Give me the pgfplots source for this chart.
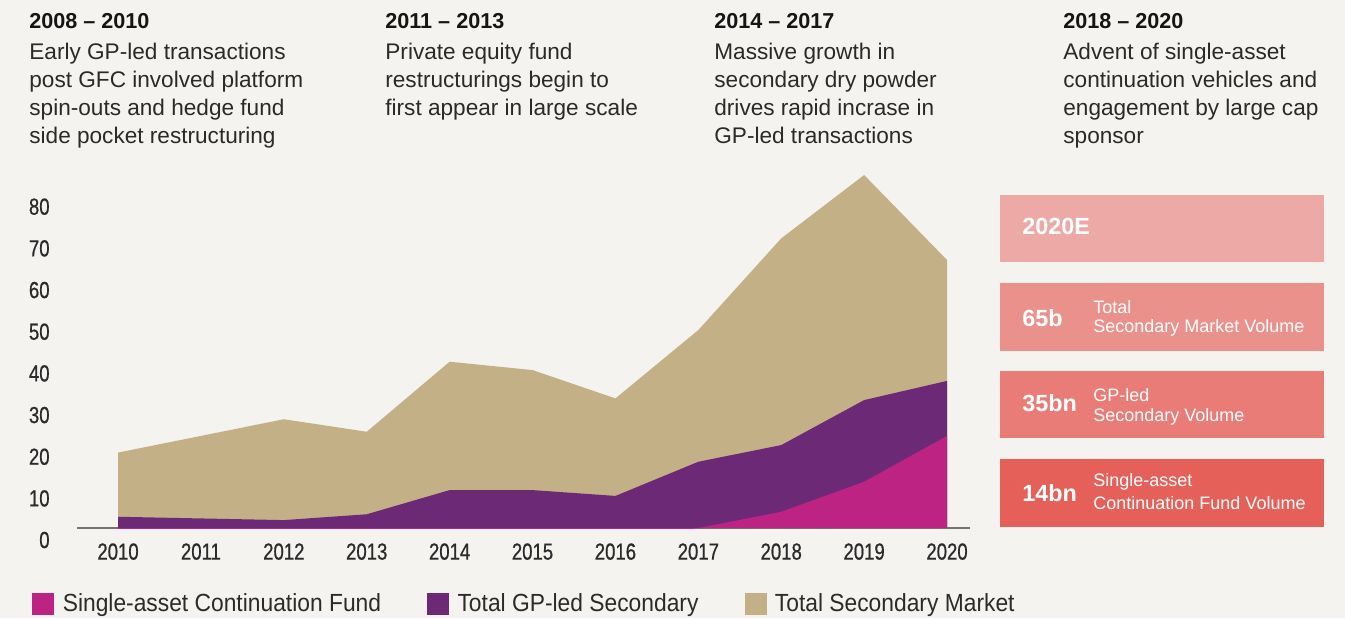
\documentclass[border=0pt]{standalone}
\usepackage{fontspec}
\usepackage{pgfplots}
\pgfplotsset{compat=1.18}
\setmainfont{Liberation Sans}
\newfontfamily\condfont{Liberation Sans}[FakeStretch=0.8, FakeBold=0.7]
\newfontfamily\legfont{Liberation Sans}[FakeStretch=0.92]
\definecolor{bg}{HTML}{F4F3EF}
\definecolor{ctan}{HTML}{C4B087}
\definecolor{cpurple}{HTML}{6C2A76}
\definecolor{cpink}{HTML}{BD2382}
\definecolor{boxa}{HTML}{EDA9A5}
\definecolor{boxb}{HTML}{EA918C}
\definecolor{boxc}{HTML}{E97C76}
\definecolor{boxd}{HTML}{E6605A}
\definecolor{headc}{HTML}{151515}
\definecolor{bodyc}{HTML}{2A2A2A}
\definecolor{tickc}{HTML}{2B2B2B}
\begin{document}
\begin{tikzpicture}
\fill[bg] (0pt,0pt) rectangle (672.5pt,-309pt);
\begin{scope}[x=0.5pt,y=-0.5pt]
% header columns
\newcommand{\head}[3]{\node[anchor=base west,inner sep=0pt,text=headc,font=\fontsize{10.8pt}{12pt}\selectfont\bfseries] at (#1,#2) {#3};}
\newcommand{\bline}[3]{\node[anchor=base west,inner sep=0pt,text=bodyc,font=\fontsize{11.3pt}{13pt}\selectfont] at (#1,#2) {#3};}
\head{29}{28.3}{2008 -- 2010}
\bline{29}{59}{Early GP-led transactions}
\bline{29}{87.3}{post GFC involved platform}
\bline{29}{115.6}{spin-outs and hedge fund}
\bline{29}{143.9}{side pocket restructuring}
\head{385}{28.3}{2011 -- 2013}
\bline{385}{59}{Private equity fund}
\bline{385}{87.3}{restructurings begin to}
\bline{385}{115.6}{first appear in large scale}
\head{714}{28.3}{2014 -- 2017}
\bline{714}{59}{Massive growth in}
\bline{714}{87.3}{secondary dry powder}
\bline{714}{115.6}{drives rapid incrase in}
\bline{714}{143.9}{GP-led transactions}
\head{1063}{28.3}{2018 -- 2020}
\bline{1063}{59}{Advent of single-asset}
\bline{1063}{87.3}{continuation vehicles and}
\bline{1063}{115.6}{engagement by large cap}
\bline{1063}{143.9}{sponsor}
% right boxes
\fill[boxa] (1000,195) rectangle (1324,262);
\fill[boxb] (1000,283) rectangle (1324,351);
\fill[boxc] (1000,371) rectangle (1324,438);
\fill[boxd] (1000,459) rectangle (1324,527);
\newcommand{\bnum}[3]{\node[anchor=west,inner sep=0pt,text=white,font=\fontsize{11.7pt}{13pt}\selectfont\bfseries] at (#1,#2) {#3};}
\newcommand{\blab}[3]{\node[anchor=west,inner sep=0pt,text=white,font=\fontsize{9pt}{10pt}\selectfont] at (#1,#2) {#3};}
\bnum{1022}{226.7}{2020E}
\bnum{1022}{318.3}{65b}
\blab{1093}{306.7}{Total}
\blab{1093}{328.3}{Secondary Market Volume}
\bnum{1022}{403.3}{35bn}
\blab{1093}{395}{GP-led}
\blab{1093}{416.7}{Secondary Volume}
\bnum{1022}{493.3}{14bn}
\blab{1093}{481.7}{Single-asset}
\blab{1093}{503.3}{Continuation Fund Volume}
\end{scope}
\begin{axis}[
  at={(38.5pt,-264pt)}, anchor=south west,
  width=446.5pt, height=179pt, scale only axis,
  xmin=2009.505, xmax=2020.277, ymin=2.9, ymax=88.8,
  axis x line*=bottom, axis y line*=left,
  y axis line style={draw=none},
  x axis line style={draw=black!55, line width=0.7pt, -},
  major tick length=0pt,
  xtick={2010,2011,2012,2013,2014,2015,2016,2017,2018,2019,2020},
  xticklabels={2010,2011,2012,2013,2014,2015,2016,2017,2018,2019,2020},
  ytick={10,20,30,40,50,60,70,80},
  yticklabels={10,20,30,40,50,60,70,80},
  extra y ticks={2.9}, extra y tick labels={0},
  extra y tick style={yticklabel style={yshift=-6pt}},
  tick label style={font=\condfont\fontsize{11.6pt}{13pt}\selectfont, text=tickc, inner sep=0pt},
  xticklabel style={anchor=north, yshift=-7.5pt},
  yticklabel style={anchor=east, xshift=-13.5pt},
  legend columns=3,
  legend style={at={(-0.0504,0)}, anchor=north west, yshift=-32.5pt, draw=none, fill=none, inner sep=0pt,
    font=\legfont\fontsize{12.4pt}{14pt}\selectfont, text=tickc,
    /tikz/every even column/.append style={column sep=23pt},
    nodes={inner sep=0pt, anchor=west}},
  legend cell align=left,
  legend image code/.code={\fill[#1,draw=none] (0pt,-5.5pt) rectangle (11pt,5.5pt); \path (15pt,0pt);},
]
\addlegendimage{fill=cpink}
\addlegendentry{Single-asset Continuation Fund}
\addlegendimage{fill=cpurple}
\addlegendentry{Total GP-led Secondary}
\addlegendimage{fill=ctan}
\addlegendentry{Total Secondary Market}
\addplot[fill=ctan, draw=none, forget plot] coordinates {
(2010,21.0) (2011,25.0) (2012,29.0) (2013,26.0) (2014,42.8) (2015,40.8)
(2016,34.0) (2017,50.4) (2018,72.4) (2019,87.6) (2020,67.2)} \closedcycle;
\addplot[fill=cpurple, draw=none, forget plot] coordinates {
(2010,5.6) (2011,5.2) (2012,4.8) (2013,6.2) (2014,12.0) (2015,12.0)
(2016,10.6) (2017,18.8) (2018,22.8) (2019,33.6) (2020,38.2)} \closedcycle;
\addplot[fill=cpink, draw=none, forget plot] coordinates {
(2010,0) (2011,0) (2012,0) (2013,0) (2014,0) (2015,0)
(2016,0) (2017,2.9) (2018,6.8) (2019,14.0) (2020,25.0)} \closedcycle;
\end{axis}
\pgfresetboundingbox
\path[use as bounding box] (0pt,0pt) rectangle (672.5pt,-309pt);
\end{tikzpicture}
\end{document}
